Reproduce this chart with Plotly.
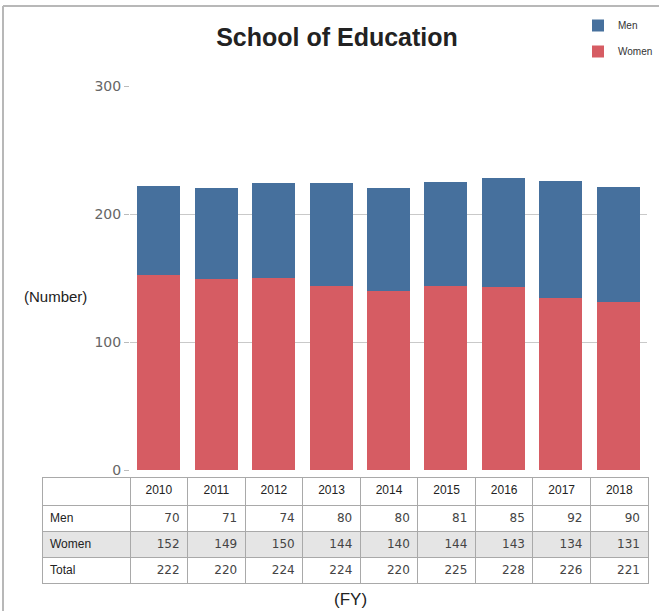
import plotly.graph_objects as go

years = ["2010", "2011", "2012", "2013", "2014", "2015", "2016", "2017", "2018"]
men = [70, 71, 74, 80, 80, 81, 85, 92, 90]
women = [152, 149, 150, 144, 140, 144, 143, 134, 131]
total = [222, 220, 224, 224, 220, 225, 228, 226, 221]
row_labels = ["Men", "Women", "Total"]
y_ticks = [0, 100, 200, 300]

W, H = 659, 611
BLUE = "#46709d"
RED = "#d65c63"

fig = go.Figure()
fig.add_trace(go.Bar(x=years, y=women, name="Women", legendgroup="w", legendrank=2,
                     marker=dict(color=RED, line=dict(width=0)), hoverinfo="x+y+name"))
fig.add_trace(go.Bar(x=years, y=men, name="Men", legendgroup="m", legendrank=1,
                     marker=dict(color=BLUE, line=dict(width=0)), hoverinfo="x+y+name"))

# data table under the chart
cell_cols = [row_labels] + [[m, w, t] for m, w, t in zip(men, women, total)]
fills = [["white", "#e5e5e5", "white"]] * (len(years) + 1)
fig.add_trace(go.Table(
    domain=dict(x=[42 / W, 648 / W], y=[1 - 587 / H, 1 - 477 / H]),
    columnwidth=[88] + [57.5] * len(years),
    header=dict(values=[""] + years, align="center", height=28,
                fill=dict(color="white"), line=dict(color="#a9a9a9", width=1),
                font=dict(family="Liberation Sans, Arial", size=12, color="#222")),
    cells=dict(values=cell_cols, align=["left"] + ["right"] * len(years), height=26,
               fill=dict(color=fills), line=dict(color="#a9a9a9", width=1),
               font=dict(family=["Liberation Sans, Arial"] + ["DejaVu Sans"] * len(years),
                         size=12, color=["#222"] + ["#444"] * len(years))),
))

fig.update_layout(
    width=W, height=H,
    margin=dict(l=0, r=0, t=0, b=0, autoexpand=False),
    paper_bgcolor="white", plot_bgcolor="white",
    barmode="stack", bargap=0.25,
    title=dict(text="<b>School of Education</b>", x=337 / W, xanchor="center",
               y=1 - 37 / H, yanchor="middle",
               font=dict(family="Liberation Sans, Arial", size=25, color="#222")),
    legend=dict(x=578 / W, y=1 - 11 / H, xanchor="left", yanchor="top",
                traceorder="grouped", tracegroupgap=7,
                font=dict(family="Liberation Sans, Arial", size=10, color="#333"),
                bgcolor="rgba(0,0,0,0)", itemwidth=30),
    xaxis=dict(domain=[130 / W, 647 / W], showticklabels=False, ticks="",
               showgrid=False, zeroline=False, showline=False),
    yaxis=dict(domain=[1 - 470 / H, 1 - 86 / H], range=[0, 300], tickvals=y_ticks,
               showgrid=True, gridcolor="#c9c9c9", gridwidth=1,
               zeroline=True, zerolinecolor="white",
               ticks="outside", ticklen=5, tickcolor="#bbbbbb",
               tickfont=dict(family="DejaVu Sans", size=14, color="#666")),
    annotations=[
        dict(text="(Number)", x=55 / W, y=1 - 296 / H, xref="paper", yref="paper",
             xanchor="center", yanchor="middle", showarrow=False,
             font=dict(family="Liberation Sans, Arial", size=15, color="#222")),
        dict(text="(FY)", x=350 / W, y=1 - 599 / H, xref="paper", yref="paper",
             xanchor="center", yanchor="middle", showarrow=False,
             font=dict(family="Liberation Sans, Arial", size=17, color="#222")),
    ],
    shapes=[
        dict(type="line", xref="paper", yref="paper", x0=3 / W, x1=1, y0=1 - 6 / H, y1=1 - 6 / H,
             line=dict(color="#b8b8b8", width=2)),
        dict(type="line", xref="paper", yref="paper", x0=3 / W, x1=3 / W, y0=0, y1=1 - 6 / H,
             line=dict(color="#b8b8b8", width=2)),
    ],
)

fig.write_html("out.html", config={"displayModeBar": False},
               post_script="document.body.style.margin='0';")
